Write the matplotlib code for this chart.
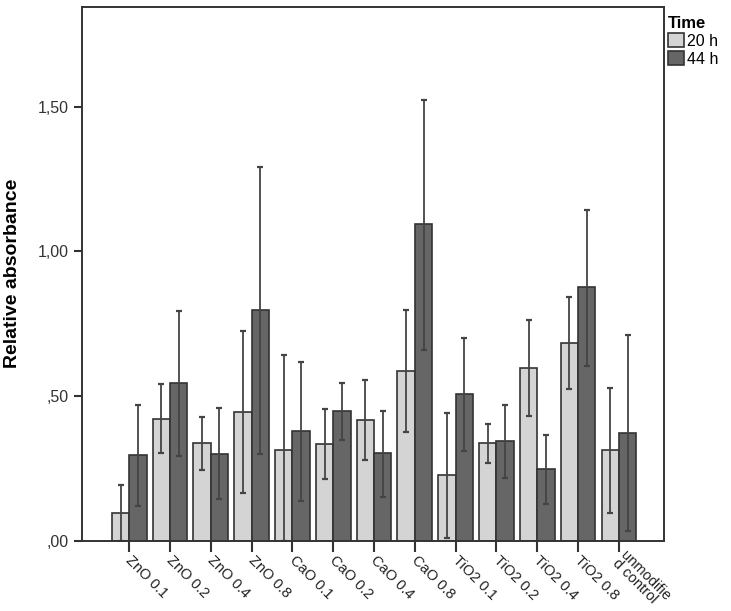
import numpy as np
import matplotlib.pyplot as plt

plt.rcParams['font.family'] = ['Liberation Sans', 'DejaVu Sans']

groups = ['ZnO 0.1', 'ZnO 0.2', 'ZnO 0.4', 'ZnO 0.8', 'CaO 0.1', 'CaO 0.2', 'CaO 0.4',
          'CaO 0.8', 'TiO2 0.1', 'TiO2 0.2', 'TiO2 0.4', 'TiO2 0.8', 'unmodifie\nd control']

# mean values
h20 = [0.095, 0.422, 0.336, 0.446, 0.314, 0.334, 0.417, 0.585, 0.226, 0.337, 0.597, 0.684, 0.313]
h44 = [0.295, 0.544, 0.300, 0.797, 0.379, 0.447, 0.302, 1.093, 0.507, 0.344, 0.247, 0.877, 0.372]
# error bar ends (lower, upper)
h20_lo = [0.000, 0.303, 0.245, 0.164, 0.000, 0.215, 0.278, 0.377, 0.011, 0.269, 0.430, 0.525, 0.097]
h20_hi = [0.193, 0.541, 0.426, 0.725, 0.640, 0.455, 0.556, 0.797, 0.441, 0.405, 0.763, 0.842, 0.528]
h44_lo = [0.120, 0.293, 0.143, 0.300, 0.139, 0.348, 0.152, 0.660, 0.309, 0.216, 0.128, 0.605, 0.032]
h44_hi = [0.470, 0.792, 0.457, 1.291, 0.618, 0.545, 0.449, 1.522, 0.702, 0.470, 0.366, 1.144, 0.710]

x = np.arange(len(groups))
w = 0.425

fig = plt.figure(figsize=(7.31, 6.11), dpi=100)
ax = fig.add_axes([0.112, 0.115, 0.796, 0.874])

ax.bar(x - w / 2, h20, w, color='#d4d4d4', edgecolor='#333333', linewidth=1.2, label='20 h')
ax.bar(x + w / 2, h44, w, color='#666666', edgecolor='#333333', linewidth=1.2, label='44 h')

for xs, m, lo, hi in [(x - w / 2, h20, h20_lo, h20_hi), (x + w / 2, h44, h44_lo, h44_hi)]:
    m = np.array(m)
    err = [m - np.array(lo), np.array(hi) - m]
    ax.errorbar(xs, m, yerr=err, fmt='none', ecolor='#444444', elinewidth=1.3,
                capsize=2, capthick=1.6)

ax.set_xlim(-1.16, 13.1)
ax.set_ylim(0, 1.845)
ax.set_yticks([0, 0.5, 1.0, 1.5])
ax.set_yticklabels([',00', ',50', '1,00', '1,50'], fontsize=11.5, color='#333333')
ax.set_xticks(x)
ax.set_xticklabels(groups, rotation=-45, rotation_mode='anchor', ha='left',
                   va='center_baseline', fontsize=10.5, color='#222222', linespacing=0.8)
ax.tick_params(axis='x', length=8, width=1.5, color='#333333', pad=3.5)
ax.tick_params(axis='y', length=6, width=1.5, color='#333333')
ax.set_ylabel('Relative absorbance', fontsize=14, fontweight='bold', labelpad=12)
for s in ax.spines.values():
    s.set_linewidth(1.4)
    s.set_color('#333333')

leg = fig.legend(loc='upper left', bbox_to_anchor=(0.905, 0.985), frameon=False,
                 title='Time', fontsize=11.5, handlelength=1.0, handleheight=1.0,
                 handletextpad=0.2, borderaxespad=0, labelspacing=0.15)
leg.get_title().set_fontweight('bold')
leg.get_title().set_fontsize(12)
leg._legend_box.align = 'left'

fig.savefig('out.png', dpi=100)
